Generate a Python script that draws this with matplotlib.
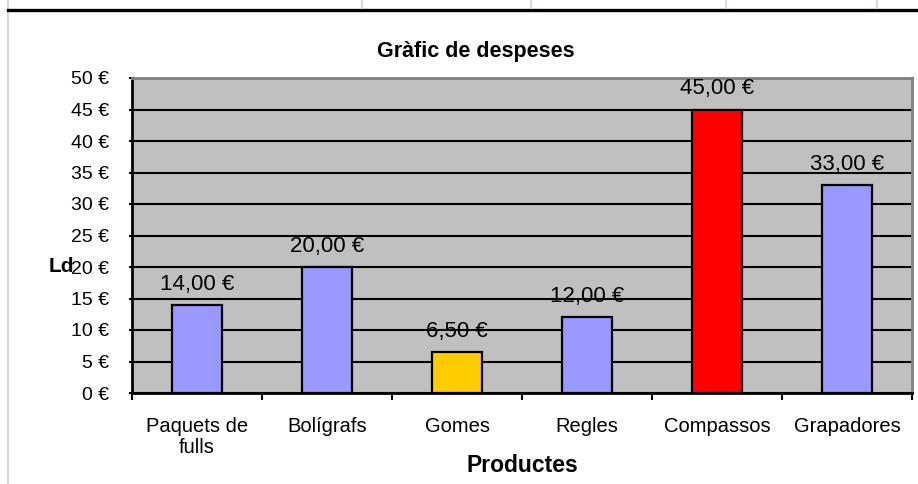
import numpy as np
import matplotlib.pyplot as plt
from matplotlib.lines import Line2D

plt.rcParams['font.family'] = ['Liberation Sans', 'DejaVu Sans']

categories = ["Paquets de\nfulls", "Bolígrafs", "Gomes", "Regles", "Compassos", "Grapadores"]
costs = [14.00, 20.00, 6.50, 12.00, 45.00, 33.00]
bar_colors = ["#9999FF", "#9999FF", "#FFCC00", "#9999FF", "#FF0000", "#9999FF"]
y_ticks = [0, 5, 10, 15, 20, 25, 30, 35, 40, 45, 50]

fig = plt.figure(figsize=(9.18, 4.84), dpi=100)
fig.patch.set_facecolor("white")

# spreadsheet bits around the chart
fig.add_artist(Line2D([7.5 / 918, 7.5 / 918], [0, 1], color="#D3DCEA", lw=1.6))
fig.add_artist(Line2D([8 / 918, 1], [1 - 9.5 / 484] * 2, color="black", lw=2.4))
for xs in [362, 531, 726, 877]:
    fig.add_artist(Line2D([xs / 918] * 2, [1 - 8 / 484, 1], color="#D3DCEA", lw=1.6))

ax = fig.add_axes([132 / 918, 1 - 393 / 484, 780 / 918, 315 / 484])
ax.set_facecolor("#C0C0C0")

x = np.arange(len(categories))
ax.bar(x, costs, width=0.385, color=bar_colors, edgecolor="black", linewidth=1.6, zorder=3)

for xi, v in zip(x, costs):
    label = f"{v:.2f}".replace(".", ",") + " €"
    ax.text(xi, v + 2.4, label, ha="center", va="baseline", fontsize=16, zorder=4)

ax.set_xlim(-0.5, len(categories) - 0.5)
ax.set_ylim(0, 50)
ax.set_yticks(y_ticks)
ax.set_yticklabels([f"{t} €" for t in y_ticks], fontsize=14)
ax.yaxis.grid(True, color="black", lw=1.5, zorder=1)
ax.set_axisbelow(True)

ax.set_xticks(x)
ax.set_xticklabels(categories, fontsize=14.5, linespacing=1.15)
ax.set_xticks(np.arange(-0.5, len(categories)), minor=True)
ax.tick_params(axis="x", which="major", length=0, pad=17)
ax.tick_params(axis="x", which="minor", length=5, width=1.5, direction="out")
ax.tick_params(axis="y", length=5, width=1.5, direction="inout", pad=14)

for side in ["top", "right"]:
    ax.spines[side].set_color("#808080")
    ax.spines[side].set_linewidth(2)
for side in ["left", "bottom"]:
    ax.spines[side].set_color("black")
    ax.spines[side].set_linewidth(2)

fig.text(476 / 918, 1 - 52 / 484, "Gràfic de despeses", ha="center", va="center",
         fontsize=15.5, fontweight="bold")
ax.set_xlabel("Productes", fontsize=16.5, fontweight="bold", labelpad=-2)
# garbled y-axis title as it shows in the original
fig.text(61 / 918, 1 - 267 / 484, "Ld", ha="center", va="center",
         fontsize=15, fontweight="heavy")

fig.savefig("out.png", dpi=100)
